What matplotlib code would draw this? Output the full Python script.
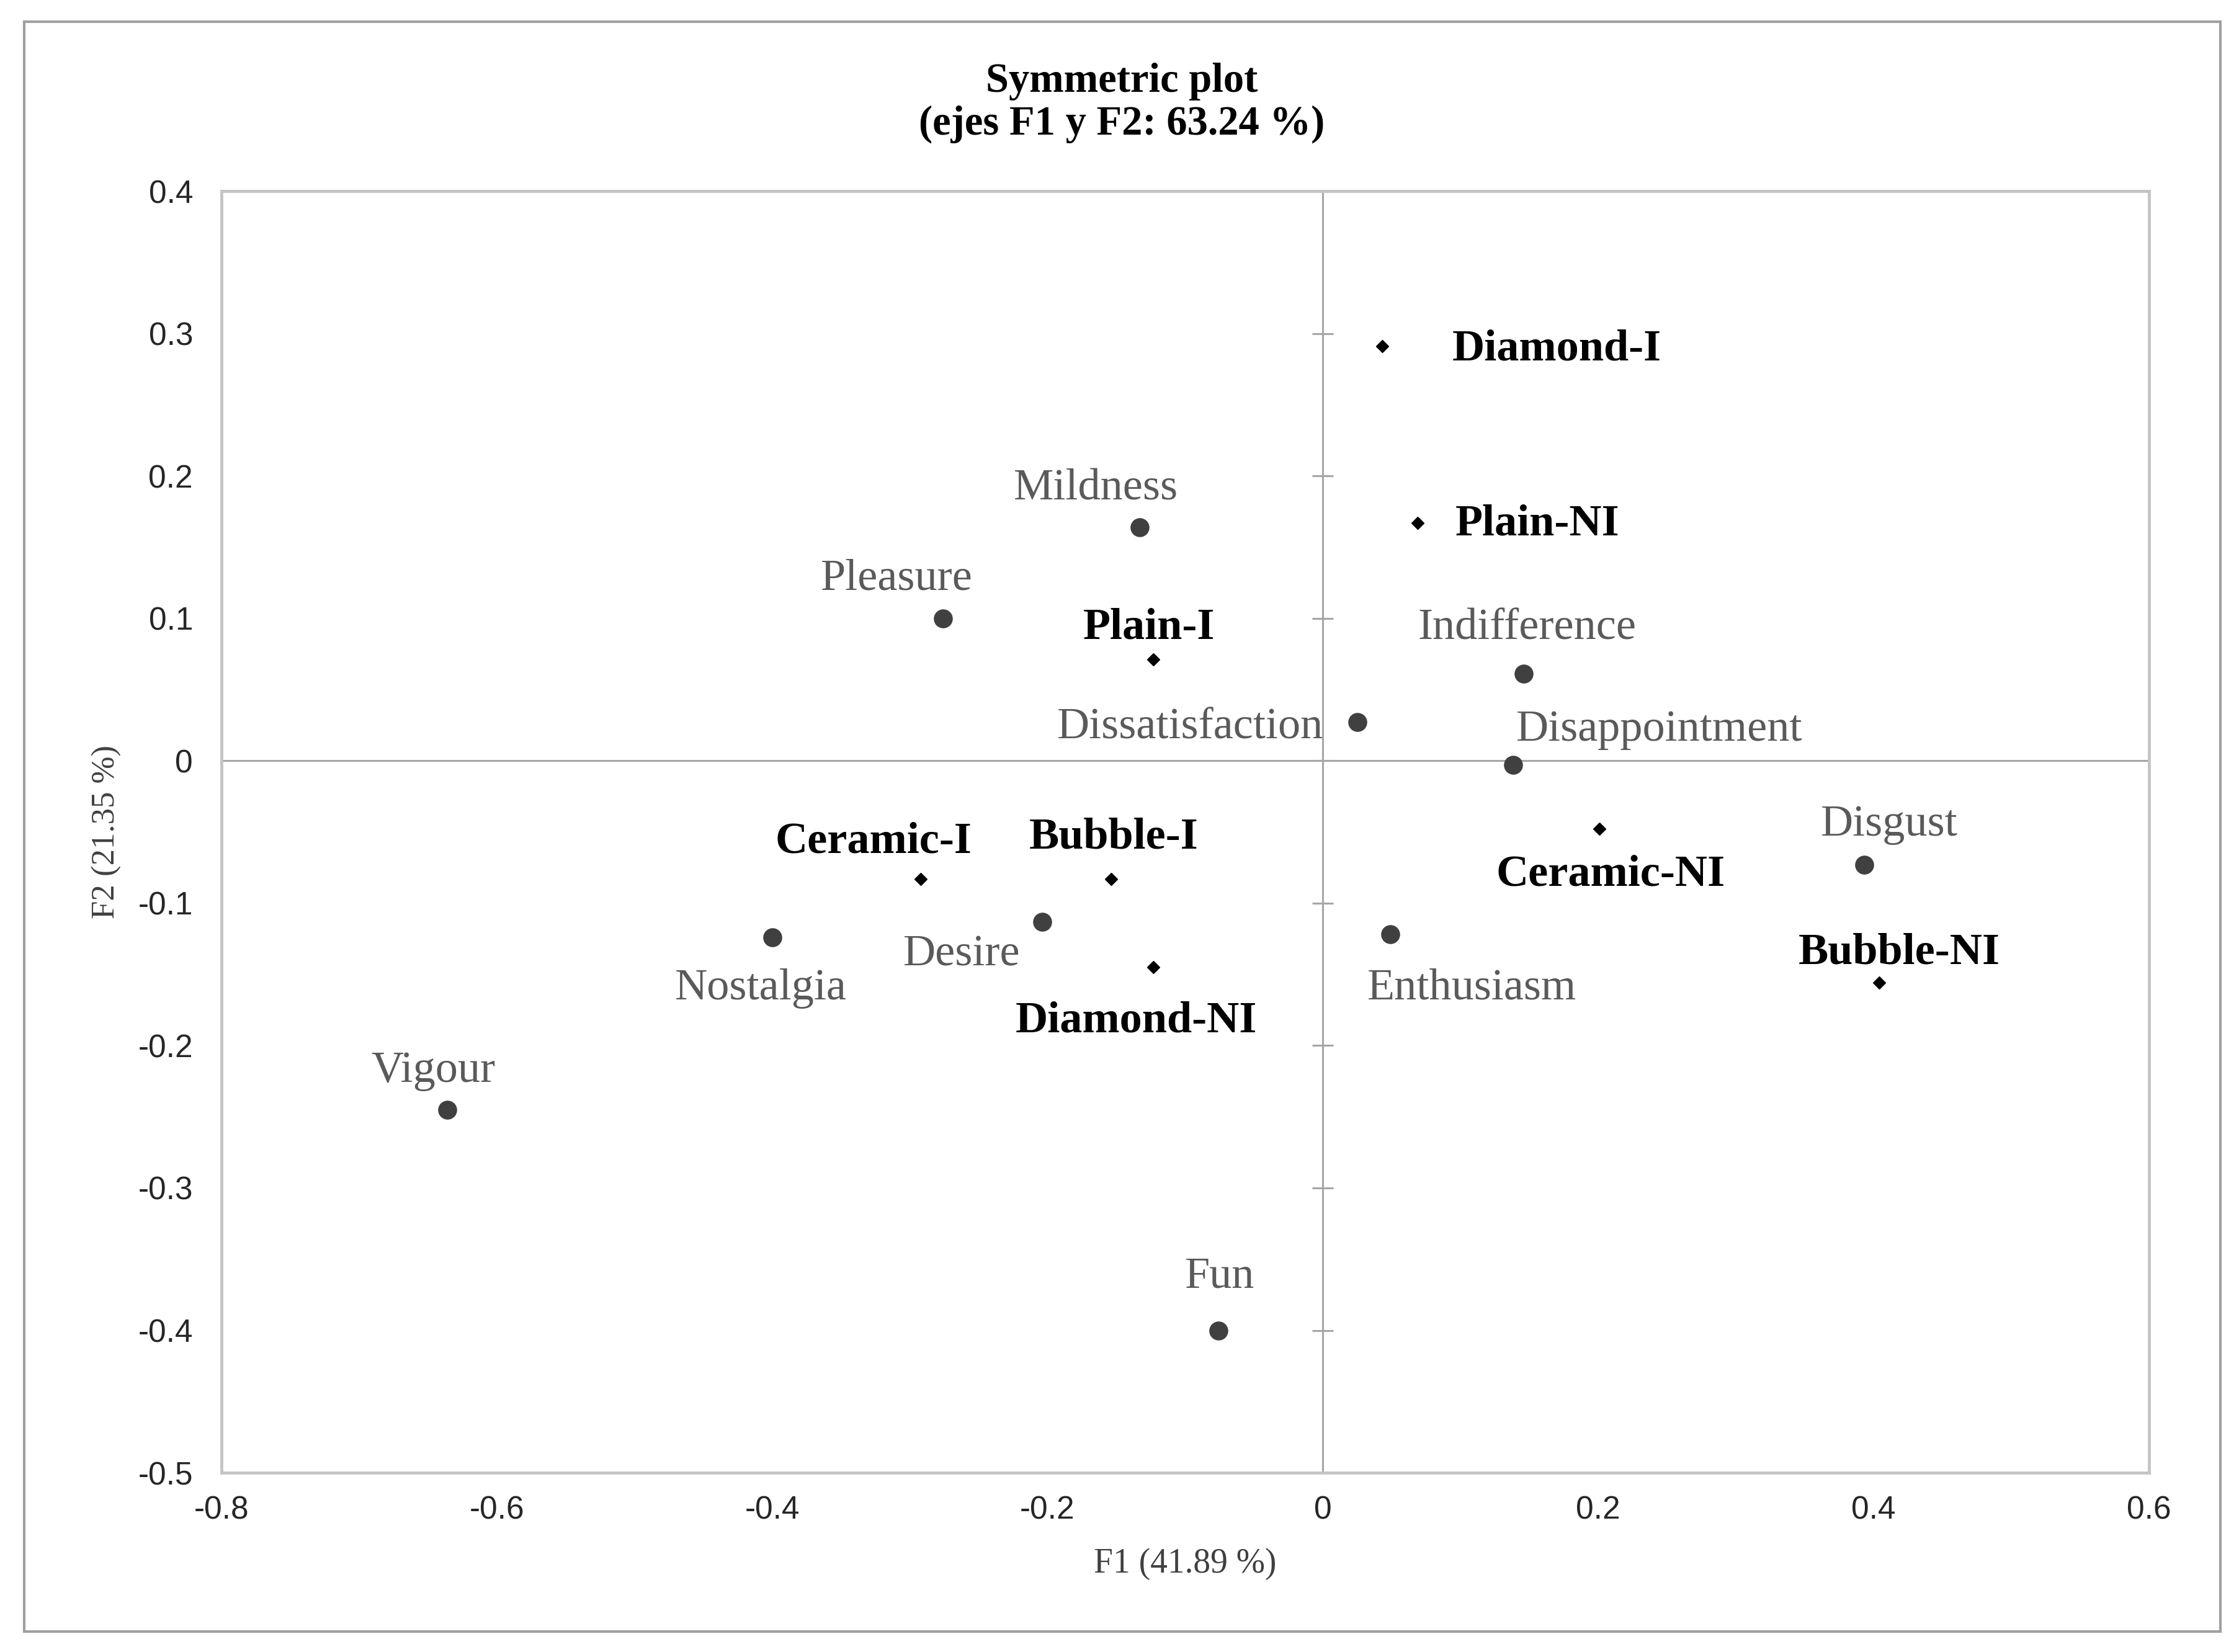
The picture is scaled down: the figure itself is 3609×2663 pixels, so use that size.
"""
Symmetric plot of a correspondence analysis (F1 x F2): emotions and products
"""

### imports
import numpy as np
import matplotlib
matplotlib.use('Agg')
import matplotlib.pyplot as plt
from matplotlib.patches import Rectangle

# emotion terms (round grey dots)
emotions = ['Mildness', 'Pleasure', 'Indifference', 'Dissatisfaction', 'Disappointment',
            'Disgust', 'Desire', 'Nostalgia', 'Enthusiasm', 'Vigour', 'Fun']
emo_f1 = [-0.133, -0.276, 0.146, 0.025, 0.138, 0.393, -0.204, -0.400, 0.049, -0.636, -0.076]
emo_f2 = [0.164, 0.100, 0.061, 0.027, -0.003, -0.073, -0.113, -0.124, -0.122, -0.245, -0.400]

# products (small black diamonds)
products = ['Diamond-I', 'Plain-NI', 'Plain-I', 'Ceramic-NI', 'Ceramic-I',
            'Bubble-I', 'Diamond-NI', 'Bubble-NI']
prod_f1 = [0.043, 0.069, -0.123, 0.201, -0.292, -0.154, -0.123, 0.404]
prod_f2 = [0.291, 0.167, 0.071, -0.048, -0.083, -0.083, -0.145, -0.156]

xticks = [-0.8, -0.6, -0.4, -0.2, 0, 0.2, 0.4, 0.6]
yticks = [-0.5, -0.4, -0.3, -0.2, -0.1, 0, 0.1, 0.2, 0.3, 0.4]

title = 'Symmetric plot'
subtitle = '(ejes F1 y F2: 63.24 %)'
xlabel = 'F1 (41.89 %)'
ylabel = 'F2 (21.35 %)'

# label placement: offset from the mark in pixels (dx, dy) and horizontal alignment
emo_offsets = [(-71, 62, 'center'), (-74, 64, 'center'), (5, 73, 'center'),
               (-55, -9, 'right'), (5, 57, 'left'), (41, 64, 'center'),
               (-129, -53, 'center'), (-18, -83, 'center'), (131, -87, 'center'),
               (-23, 62, 'center'), (2, 87, 'center')]
prod_offsets = [(113, -5, 'left'), (60, -2, 'left'), (-7, 51, 'center'),
                (18, -74, 'center'), (-76, 60, 'center'), (5, 67, 'center'),
                (-28, -87, 'center'), (32, 48, 'center')]

SERIF = 'Liberation Serif'
SANS = 'Liberation Sans'
LINE = '#a6a6a6'
SPINE = '#c4c4c4'

fig = plt.figure(figsize=(36.09, 26.63), dpi=100)
ax = fig.add_axes([0.0989, 0.1085, 0.8609, 0.7758])

# outer frame around the whole chart
fig.patches.append(Rectangle((0.0108, 0.0124), 0.9809, 0.9745, transform=fig.transFigure,
                             fill=False, edgecolor='#a0a0a0', linewidth=3))

ax.set_xlim(-0.8, 0.6)
ax.set_ylim(-0.5, 0.4)
ax.set_xticks(xticks)
ax.set_yticks(yticks)
ax.set_xticklabels([('%g' % v) for v in xticks], fontfamily=SANS, fontsize=37, color='#262626')
ax.set_yticklabels([('%g' % v) for v in yticks], fontfamily=SANS, fontsize=37, color='#262626')
ax.tick_params(axis='both', length=0)
ax.tick_params(axis='x', pad=26)
ax.tick_params(axis='y', pad=33)
for s in ax.spines.values():
	s.set_color(SPINE)
	s.set_linewidth(3.5)

# axes through the origin, with crossing ticks on the vertical one
ax.axhline(0, color=LINE, linewidth=2.2, zorder=1)
ax.axvline(0, color=LINE, linewidth=2.2, zorder=1)
ax.plot(np.zeros(len(yticks)), yticks, linestyle='none', marker='_', markersize=24,
        markeredgewidth=2.2, color=LINE, zorder=1, clip_on=False)

ax.plot(emo_f1, emo_f2, linestyle='none', marker='o', markersize=21, color='#404040', zorder=3)
ax.plot(prod_f1, prod_f2, linestyle='none', marker='D', markersize=10, color='#000000', zorder=3)

for name, x, y, (dx, dy, ha) in zip(emotions, emo_f1, emo_f2, emo_offsets):
	ax.annotate(name, (x, y), xytext=(dx, dy), textcoords='offset pixels', ha=ha, va='center',
	            fontfamily=SERIF, fontsize=52, color='#5a5a5a')
for name, x, y, (dx, dy, ha) in zip(products, prod_f1, prod_f2, prod_offsets):
	ax.annotate(name, (x, y), xytext=(dx, dy), textcoords='offset pixels', ha=ha, va='center',
	            fontfamily=SERIF, fontsize=52, fontweight='bold', color='#000000')

ax.set_xlabel(xlabel, fontfamily=SERIF, fontsize=40, color='#404040', va='center')
ax.xaxis.set_label_coords(0.5, -0.0712)
ax.set_ylabel(ylabel, fontfamily=SERIF, fontsize=38, color='#404040', va='center')
ax.yaxis.set_label_coords(-0.0595, 0.5)

fig.text(0.501, 0.9508, title, ha='center', va='center', fontfamily=SERIF,
         fontsize=48, fontweight='bold', color='#000000')
fig.text(0.501, 0.9249, subtitle, ha='center', va='center', fontfamily=SERIF,
         fontsize=48, fontweight='bold', color='#000000')

fig.savefig('out.png', dpi=100, facecolor='white')
